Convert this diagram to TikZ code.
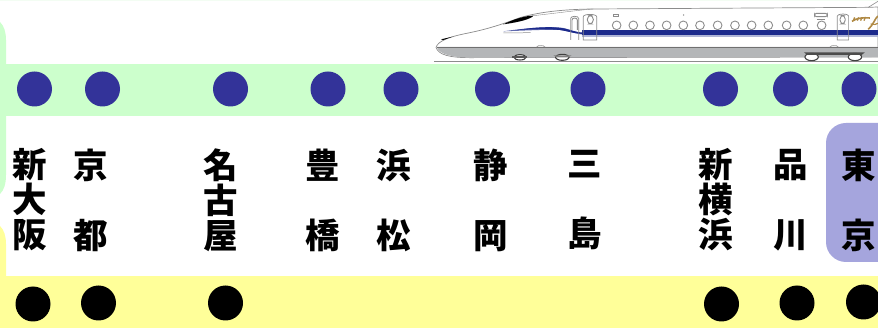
\documentclass[tikz,border=0pt]{standalone}
\usepackage{fontspec}
\setmainfont{Noto Sans CJK JP}[BoldFont={* Black}]
\definecolor{bandgreen}{HTML}{CCFFCC}
\definecolor{bandyellow}{HTML}{FFFF99}
\definecolor{stopblue}{HTML}{333399}
\definecolor{tokyoblue}{HTML}{A5A5DD}
\definecolor{stripe}{HTML}{1C2A8C}
\definecolor{bodygray}{HTML}{B4B6B8}
\definecolor{trainline}{HTML}{8C8C8C}
\definecolor{logogold}{HTML}{B08A45}
\tikzset{
  greendot/.style={circle,fill=stopblue,draw=none,minimum size=35pt,inner sep=0pt},
  blackdot/.style={circle,fill=black,draw=none,minimum size=35pt,inner sep=0pt},
  stationname/.style={inner sep=0pt,align=center,anchor=center,font=\fontsize{34.5}{35}\selectfont\bfseries},
  win/.style={draw=trainline,line width=.9pt,fill=white},
  doorline/.style={draw=trainline,line width=.7pt},
  bogie/.style={draw=black!75,line width=1.1pt,fill=white}
}
\begin{document}
\begin{tikzpicture}[x=1pt,y=-1pt]
\useasboundingbox (0,0) rectangle (878,328);
\clip (0,0) rectangle (878,328);
\fill[white] (0,0) rectangle (878,328);
\fill[black!4!bandgreen!20] (0,0) rectangle (878,1);
% bands
\fill[bandgreen] (0,64) rectangle (878,116);
\fill[bandgreen] (0,22) .. controls (4,26) and (6,32) .. (6,40) -- (6,175) .. controls (6,184) and (4,190) .. (0,194) -- cycle;
\fill[bandyellow] (0,276) rectangle (878,328);
\fill[bandyellow] (0,226) .. controls (4,230) and (6,236) .. (6,244) -- (6,276) -- (0,276) -- cycle;
% Tokyo highlight
\fill[tokyoblue,rounded corners=20pt] (826,123) rectangle (900,262);
% train
\begin{scope}[x=0.3333pt,y=-0.3333pt,shift={(420pt,0pt)}]
  \draw[trainline,line width=.6pt] (42,183) -- (1374,183);
  \filldraw[draw=trainline,line width=.7pt,fill=white] (48,142) .. controls (55,122) and (90,110) .. (140,100)
     .. controls (200,88) and (240,75) .. (300,53) .. controls (350,38) and (420,28) .. (520,27) -- (1345,22) -- (1374,21) -- (1374,171) -- (150,173)
     .. controls (90,173) and (55,165) .. (48,142) -- cycle;
  \fill[bodygray] (50,141) -- (1374,141) -- (1374,171) -- (150,173) .. controls (95,172) and (58,163) .. (50,141) -- cycle;
  \draw[trainline!80!black,line width=.6pt] (50,141) -- (1374,141);
  \fill[black] (63,118) -- (98,110) -- (70,120) -- cycle;
  % bogies
  \path[bogie] (300,172) ellipse [x radius=18,y radius=8];
  \path[bogie] (427,172) ellipse [x radius=20,y radius=9];
  \path[bogie] (1175,171) ellipse [x radius=20,y radius=11];
  \path[bogie] (1305,171) ellipse [x radius=20,y radius=11];
  \fill[black!70] (1152,157) -- (1335,157) -- (1325,165) -- (1162,165) -- cycle;
  \fill[black!65] (275,168) rectangle (322,173);
  \fill[black!50] (400,166) -- (455,166) -- (445,172) -- (410,172) -- cycle;
  % windshield
  \fill[black] (250,73) .. controls (280,58) and (315,47) .. (341,47) .. controls (330,58) and (300,66) .. (250,73) -- cycle;
  \draw[trainline,line width=.4pt] (341,47) .. controls (420,38) and (480,30) .. (520,27);
  % stripe swoosh
  \fill[stripe!70!white] (250,94) .. controls (320,84) and (390,78) .. (430,84) .. controls (455,90) and (470,98) .. (490,100) -- (490,104) .. controls (460,100) and (440,92) .. (420,90) .. controls (380,88) and (310,92) .. (250,94) -- cycle;
  \fill[stripe] (290,90) .. controls (340,82) and (400,78) .. (435,86) .. controls (455,91) and (470,97) .. (490,98) -- (490,102) .. controls (460,100) and (440,93) .. (420,90) .. controls (380,86) and (330,88) .. (290,90) -- cycle;
  \fill[stripe] (485,91) rectangle (1374,106);
  \fill[stripe!35!white] (485,106) rectangle (1374,110);
  \draw[trainline,line width=.5pt] (250,99) -- (332,98);
  % doors
  \path[doorline] (452,120) -- (452,55) .. controls (452,47) and (476,47) .. (476,55) -- (476,120);
  \path[win] (456,90) -- (456,60) .. controls (456,52) and (472,52) .. (472,60) -- (472,90);
  \path[doorline] (490,120) -- (490,50) .. controls (490,41) and (530,41) .. (530,50) -- (530,120) -- cycle;
  \path[win,rounded corners=4pt] (502,46) rectangle (520,72);
  \path[doorline] (1252,120) -- (1252,48) .. controls (1252,40) and (1286,40) .. (1286,48) -- (1286,120) -- cycle;
  \path[win,rounded corners=4pt] (1260,46) rectangle (1276,72);
  % windows
  \foreach \wx in {590,640,690,740,790,840,893,945,995,1045,1100,1150,1205}
    \path[win] (\wx,76) ellipse [x radius=13,y radius=13];
  \path[win] (580,42) rectangle (596,49);
  \path[win,rounded corners=2pt] (1184,40) rectangle (1222,50);
  \path[doorline] (1190,58) -- (1216,58);
  \fill[trainline] (791,45) circle [radius=2.5];
  % vents
  \path[draw=trainline,fill=white,line width=.4pt] (350,141) .. controls (355,134) and (370,134) .. (375,141) -- cycle;
  \path[draw=trainline,fill=white,line width=.4pt] (1230,141) .. controls (1235,134) and (1250,134) .. (1255,141) -- cycle;
  % logo
  \draw[logogold,line width=1.6pt] (1296,64) .. controls (1310,54) and (1330,52) .. (1350,54);
  \draw[logogold,line width=1.3pt] (1300,62) -- (1304,52) (1312,62) -- (1316,52) (1322,62) -- (1326,52) (1332,62) -- (1336,52);
  \draw[logogold,line width=1.6pt] (1345,88) .. controls (1360,75) and (1365,55) .. (1374,48);
  \draw[logogold,line width=1.2pt] (1352,72) .. controls (1362,74) and (1370,74) .. (1374,70);
  % pantograph mark
  \draw[trainline,line width=.6pt] (1345,22) -- (1374,4);
\end{scope}
% stops, green band
\node[greendot] (g1) at (34.5,89) {};
\node[greendot] (g2) at (102.5,89) {};
\node[greendot] (g3) at (230.5,89) {};
\node[greendot] (g4) at (328,89) {};
\node[greendot] (g5) at (401,89) {};
\node[greendot] (g6) at (492.5,89) {};
\node[greendot] (g7) at (588,89) {};
\node[greendot] (g8) at (720.5,89) {};
\node[greendot] (g9) at (790.5,89) {};
\node[greendot] (g10) at (859,89) {};
% stops, yellow band
\node[blackdot] (y1) at (33,304) {};
\node[blackdot] (y2) at (98.5,303) {};
\node[blackdot] (y3) at (225.5,303) {};
\node[blackdot] (y4) at (721.5,304) {};
\node[blackdot] (y5) at (797,303) {};
\node[blackdot] (y6) at (863.5,302) {};
% station names
\node[stationname] (s1) at (30,200) {新\\大\\阪};
\node[stationname] (s2) at (91,200) {京\\\mbox{}\\都};
\node[stationname] (s3) at (220.5,200) {名\\古\\屋};
\node[stationname] (s4) at (323,200) {豊\\\mbox{}\\橋};
\node[stationname] (s5) at (394,200) {浜\\\mbox{}\\松};
\node[stationname] (s6) at (490.5,200) {静\\\mbox{}\\岡};
\node[stationname] (s7) at (585,200) {三\\\mbox{}\\島};
\node[stationname] (s8) at (716,200) {新\\横\\浜};
\node[stationname] (s9) at (791,200) {品\\\mbox{}\\川};
\node[stationname] (s10) at (858.5,200) {東\\\mbox{}\\京};
\end{tikzpicture}
\end{document}
